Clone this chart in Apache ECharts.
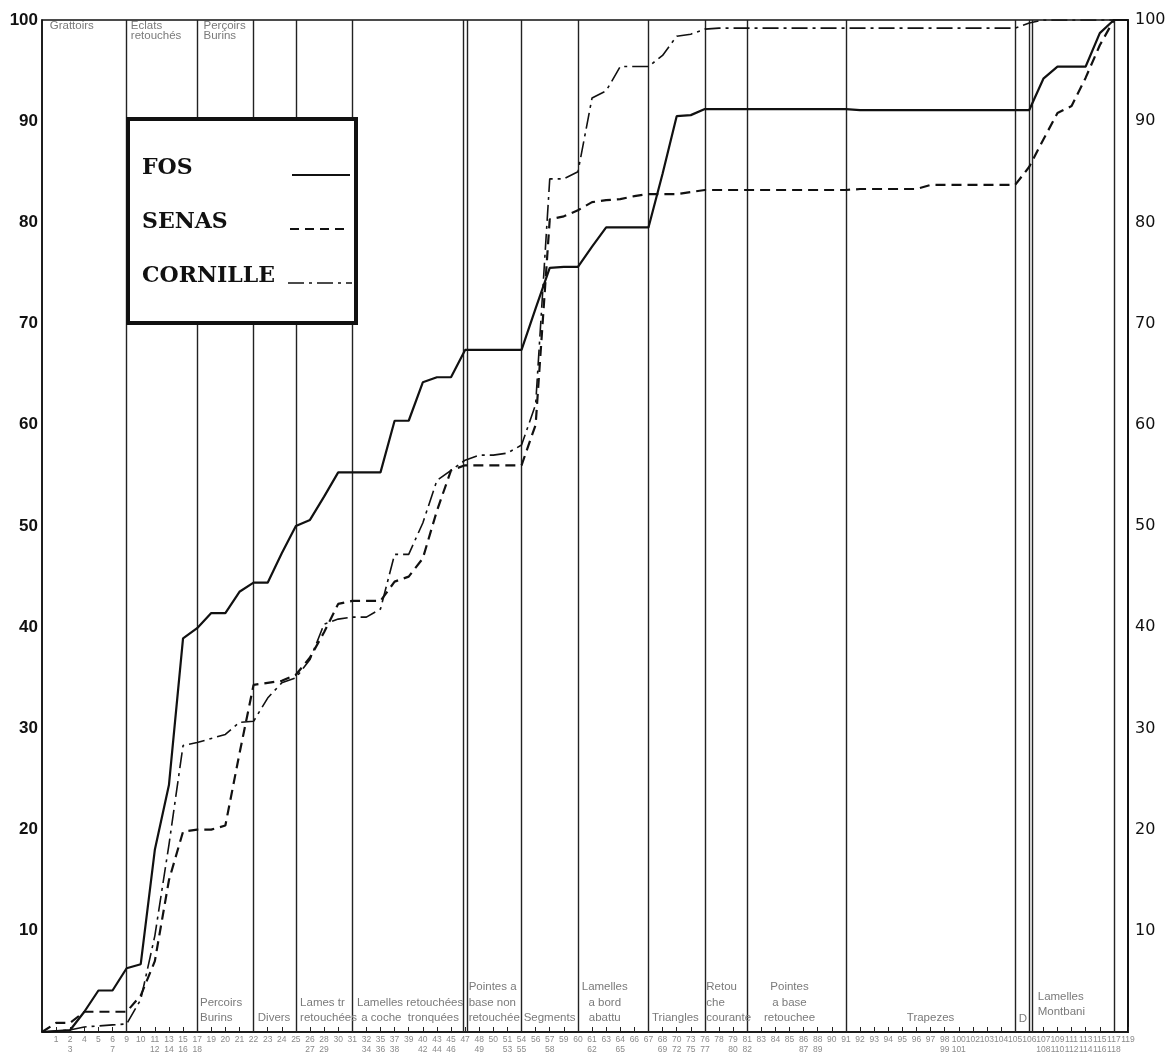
<!DOCTYPE html>
<html><head><meta charset="utf-8">
<script src="https://cdn.jsdelivr.net/npm/echarts@6/dist/echarts.min.js"></script>
<style>html,body{margin:0;padding:0;background:#fff}#c{width:1166px;height:1059px}</style>
</head><body><div id="c"></div>
<script>
// Tick labels (type numbers) at each position 0..77
const tickLabels = ['', '1', '2\n3', '4', '5', '6\n7', '9', '10', '11\n12', '13\n14', '15\n16', '17\n18',
  '19', '20', '21', '22', '23', '24', '25', '26\n27', '28\n29', '30', '31', '32\n34', '35\n36', '37\n38',
  '39', '40\n42', '43\n44', '45\n46', '47', '48\n49', '50', '51\n53', '54\n55', '56', '57\n58', '59', '60',
  '61\n62', '63', '64\n65', '66', '67', '68\n69', '70\n72', '73\n75', '76\n77', '78', '79\n80', '81\n82',
  '83', '84', '85', '86\n87', '88\n89', '90', '91', '92', '93', '94', '95', '96', '97', '98\n99', '100\n101',
  '102', '103', '104', '105', '106', '107\n108', '109\n110', '111\n112', '113\n114', '115\n116', '117\n118', '119'];

// Cumulative percentages at each tick position (0..77)
const fos = [0, 0.1, 0.2, 2.0, 4.1, 4.1, 6.3, 6.7, 18, 24.4, 38.9, 39.9, 41.4, 41.4, 43.5, 44.4, 44.4, 47.3,
  50, 50.6, 52.9, 55.3, 55.3, 55.3, 55.3, 60.4, 60.4, 64.2, 64.7, 64.7, 67.4, 67.4, 67.4, 67.4, 67.4, 71.5,
  75.5, 75.6, 75.6, 77.6, 79.5, 79.5, 79.5, 79.5, 84.8, 90.5, 90.6, 91.2, 91.2, 91.2, 91.2, 91.2, 91.2, 91.2,
  91.2, 91.2, 91.2, 91.2, 91.1, 91.1, 91.1, 91.1, 91.1, 91.1, 91.1, 91.1, 91.1, 91.1, 91.1, 91.1, 91.1,
  94.2, 95.4, 95.4, 95.4, 98.7, 100, 100];
const senas = [0, 0.9, 0.9, 2.0, 2.0, 2.0, 2.0, 3.6, 7, 15, 19.8, 20, 20, 20.4, 27.5, 34.3, 34.5, 34.7,
  35.3, 37, 39.5, 42.3, 42.6, 42.6, 42.6, 44.5, 45, 46.8, 51.5, 55.5, 56, 56, 56, 56, 56, 60, 80.3, 80.6,
  81.2, 82, 82.2, 82.3, 82.6, 82.8, 82.8, 82.8, 83, 83.2, 83.2, 83.2, 83.2, 83.2, 83.2, 83.2, 83.2, 83.2,
  83.2, 83.2, 83.3, 83.3, 83.3, 83.3, 83.3, 83.7, 83.7, 83.7, 83.7, 83.7, 83.7, 83.7, 85.5, 88.2, 90.8,
  91.5, 94.3, 97.5, 100, 100];
const cornille = [0, 0.1, 0.2, 0.5, 0.6, 0.7, 0.8, 3.2, 9.5, 18.5, 28.3, 28.6, 29, 29.4, 30.6, 30.7, 33,
  34.5, 35, 36.8, 40.3, 40.8, 41, 41, 41.8, 47.2, 47.2, 50.3, 54.5, 55.5, 56.5, 57, 57, 57.2, 58, 62, 84.3,
  84.3, 85, 92.3, 93, 95.4, 95.4, 95.4, 96.5, 98.4, 98.6, 99.1, 99.2, 99.2, 99.2, 99.2, 99.2, 99.2, 99.2,
  99.2, 99.2, 99.2, 99.2, 99.2, 99.2, 99.2, 99.2, 99.2, 99.2, 99.2, 99.2, 99.2, 99.2, 99.2, 99.7, 100, 100,
  100, 100, 100, 100, 100];

// Group separators (tick positions)
const separators = [6, 11, 15, 18, 22, 29.9, 30.12, 34, 38, 43, 47, 50, 57, 69, 70, 70.22, 76];

// Group names
const bottomGroupNames = ['Percoirs\nBurins', 'Divers', 'Lames tr\nretouchées', 'Lamelles retouchées\na coche  tronquées',
  'Pointes a\nbase non\nretouchée', 'Segments', 'Lamelles\na bord\nabattu', 'Triangles', 'Retou\nche\ncourante',
  'Pointes\na base\nretouchee', 'Trapezes', 'D', 'Lamelles\nMontbani'];
const topGroupNames = ['Grattoirs', 'Eclats\nretouchés', 'Perçoirs\nBurins'];
const seriesNames = ['FOS', 'SENAS', 'CORNILLE'];

// Layout of annotations (not data)
const bottomGroupLayout = [
  {x: 11.2, align: 'left', b: 0}, {x: 15.3, align: 'left', b: 0}, {x: 18.3, align: 'left', b: 0},
  {x: 26.1, align: 'center', b: 0}, {x: 30.25, align: 'left', b: 0}, {x: 34.15, align: 'left', b: 0},
  {x: 39.9, align: 'center', b: 0}, {x: 43.25, align: 'left', b: 0}, {x: 47.1, align: 'left', b: 0},
  {x: 53.0, align: 'center', b: 0}, {x: 63.0, align: 'center', b: 0}, {x: 69.25, align: 'left', b: -1},
  {x: 70.6, align: 'left', b: 6}];
const topGroupLayout = [{x: 0.55}, {x: 6.3}, {x: 11.45}];

const chart = echarts.init(document.getElementById('c'), null, {renderer: 'canvas'});
const toPairs = arr => arr.map((v, i) => [i, v]);
const yLabel = v => (v === 0 ? '' : String(v));

const option = {
  animation: false,
  backgroundColor: '#fff',
  grid: {left: 42, right: 38, top: 20, bottom: 27, show: true, borderColor: '#111', borderWidth: 1.5,
    outerBoundsMode: 'none', containLabel: false},
  xAxis: {
    type: 'value', min: 0, max: tickLabels.length - 1, interval: 1,
    axisLine: {lineStyle: {color: '#111', width: 1.5}},
    axisTick: {inside: true, length: 5, lineStyle: {color: '#222', width: 1}},
    axisLabel: {formatter: v => tickLabels[v] || '', fontSize: 8.5, lineHeight: 10, color: '#8a8a8a',
      margin: 3, fontFamily: 'Liberation Sans Narrow, Liberation Sans', showMinLabel: true, showMaxLabel: true,
      hideOverlap: false},
    splitLine: {show: false}
  },
  yAxis: [
    {type: 'value', min: 0, max: 100, interval: 10, position: 'left',
      axisLine: {show: true, lineStyle: {color: '#111', width: 1.5}}, axisTick: {show: false},
      axisLabel: {formatter: yLabel, fontSize: 17, fontWeight: 'bold', color: '#111', margin: 4,
        fontFamily: 'Liberation Sans'},
      splitLine: {show: false}},
    {type: 'value', min: 0, max: 100, interval: 10, position: 'right',
      axisLine: {show: true, lineStyle: {color: '#111', width: 2}}, axisTick: {show: false},
      axisLabel: {formatter: yLabel, fontSize: 16, color: '#111', margin: 7, fontFamily: 'DejaVu Sans'},
      splitLine: {show: false}}
  ],
  series: [
    {name: seriesNames[0], type: 'line', data: toPairs(fos), symbol: 'none', z: 5,
      lineStyle: {color: '#111', width: 2.2, type: 'solid'},
      markLine: {silent: true, symbol: ['none', 'none'], label: {show: false},
        lineStyle: {color: '#222', width: 1.4, type: 'solid'},
        data: separators.map(s => ({xAxis: s}))}},
    {name: seriesNames[1], type: 'line', data: toPairs(senas), symbol: 'none', z: 5,
      lineStyle: {color: '#111', width: 2.2, type: [10, 6]}},
    {name: seriesNames[2], type: 'line', data: toPairs(cornille), symbol: 'none', z: 5,
      lineStyle: {color: '#111', width: 1.6, type: [16, 5, 3, 5]}}
  ]
};
chart.setOption(option);

// Annotations positioned through the axes
const px = (x, y) => chart.convertToPixel({gridIndex: 0}, [x, y]);
const axisY = px(0, 0)[1];
const topY = px(0, 100)[1];
const labelFont = '11.5px "Liberation Sans"';
const gfx = [];
bottomGroupNames.forEach((t, i) => {
  const L = bottomGroupLayout[i];
  gfx.push({type: 'text', z: 20, style: {text: t, x: px(L.x, 0)[0], y: axisY - 6 - L.b,
    font: labelFont, fill: '#7a7a7a', align: L.align, verticalAlign: 'bottom', lineHeight: 15.5}});
});
topGroupNames.forEach((t, i) => {
  const L = topGroupLayout[i];
  gfx.push({type: 'text', z: 20, style: {text: t, x: px(L.x, 100)[0], y: topY + 1,
    font: labelFont, fill: '#7a7a7a', align: 'left', verticalAlign: 'top', lineHeight: 10}});
});
// Legend box
gfx.push({type: 'rect', z: 30, shape: {x: 128, y: 119, width: 228, height: 204},
  style: {fill: '#fff', stroke: '#111', lineWidth: 4}});
const legendDash = ['solid', [9, 6], [16, 5, 3, 5]];
const legendLineX = [[292, 350], [290, 350], [288, 352]];
seriesNames.forEach((n, i) => {
  const y = 168 + i * 54;
  gfx.push({type: 'text', z: 31, style: {text: n, x: 142, y: y, font: 'bold 22px "DejaVu Serif"',
    fill: '#111', align: 'left', verticalAlign: 'middle'}});
  gfx.push({type: 'line', z: 31, shape: {x1: legendLineX[i][0], y1: y + 7, x2: legendLineX[i][1], y2: y + 7},
    style: {stroke: '#111', lineWidth: i === 2 ? 1.6 : 2, lineDash: legendDash[i] === 'solid' ? null : legendDash[i]}});
});
chart.setOption({graphic: gfx});
</script>
</body></html>
